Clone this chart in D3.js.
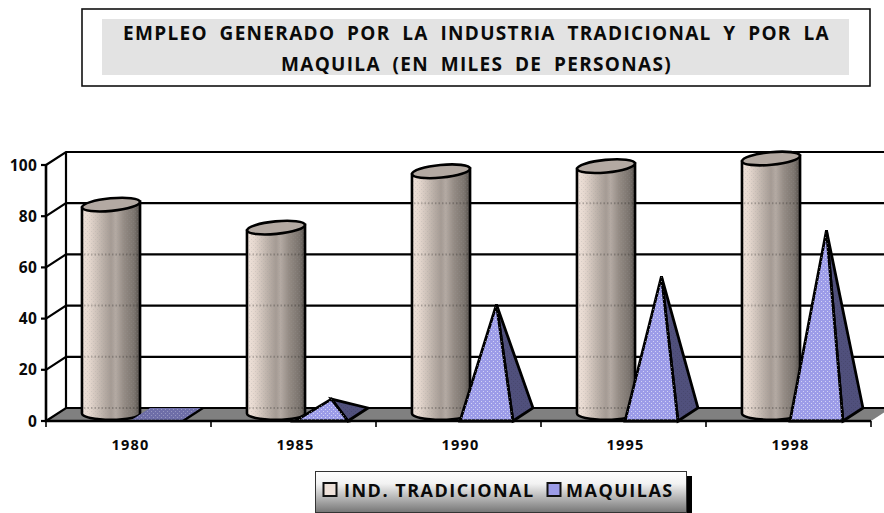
<!DOCTYPE html>
<html><head><meta charset="utf-8">
<script src="https://cdn.jsdelivr.net/npm/d3@7/dist/d3.min.js"></script>
<style>html,body{margin:0;padding:0;background:#fff}svg{display:block}text{font-family:"Open Sans","Noto Sans",sans-serif;font-weight:700;fill:#0a0a0a}</style>
</head><body><svg id="c" width="884" height="513"></svg>
<script>
const titleLines = ["EMPLEO GENERADO POR LA INDUSTRIA TRADICIONAL Y POR LA", "MAQUILA (EN MILES DE PERSONAS)"];
const years = ["1980", "1985", "1990", "1995", "1998"];
const tradicional = [82, 73, 95, 97, 100];
const maquilas = [0, 6, 43, 54, 72];
const yTicks = [0, 20, 40, 60, 80, 100];
const seriesNames = ["IND. TRADICIONAL", "MAQUILAS"];

const svg = d3.select("#c");
const W = 884;
const dx = 20, dy = -13;
const x = d3.scaleBand().domain(years).range([46, 871]);
const y = d3.scaleLinear().domain([0, 100]).range([421, 165]);
const inner = d3.scaleLinear().domain([0, 1]).range([0, x.bandwidth()]);
const defs = svg.append("defs");

function linGrad(id, dir, stops) {
  const g = defs.append("linearGradient").attr("id", id);
  if (dir === "h") g.attr("x1", 0).attr("x2", 1).attr("y1", 0).attr("y2", 0);
  else g.attr("x1", 0).attr("x2", 0).attr("y1", 0).attr("y2", 1);
  stops.forEach(s => g.append("stop").attr("offset", s[0]).attr("stop-color", s[1]));
}
linGrad("cyl", "h", [[0, "#efe2da"], [.12, "#e6d8cf"], [.35, "#bdb2aa"], [.5, "#a59b94"], [.58, "#b4aaa3"], [.72, "#958c85"], [.9, "#7b746e"], [1, "#55504b"]]);
linGrad("legendBg", "v", [[0, "#ffffff"], [.3, "#f2f2f2"], [1, "#757575"]]);
function dots(id, col, op) {
  const p = defs.append("pattern").attr("id", id).attr("width", 4).attr("height", 4).attr("patternUnits", "userSpaceOnUse");
  p.append("rect").attr("x", 1).attr("y", 1).attr("width", 1).attr("height", 1).attr("fill", col).attr("opacity", op);
  p.append("rect").attr("x", 3).attr("y", 3).attr("width", 1).attr("height", 1).attr("fill", col).attr("opacity", op);
}
dots("dotLight", "#ffffff", .55);
dots("dotDark", "#000000", .10);

/* title */
svg.append("rect").attr("x", 82).attr("y", 9).attr("width", 788).attr("height", 77).attr("fill", "#fff").attr("stroke", "#111").attr("stroke-width", 1.6);
svg.append("rect").attr("x", 102).attr("y", 19).attr("width", 747).attr("height", 56).attr("fill", "#e3e3e3");
svg.selectAll("text.title").data(titleLines).join("text").attr("class", "title")
  .attr("x", 476.5).attr("y", (d, i) => 40 + i * 30.5).attr("text-anchor", "middle")
  .attr("font-size", 19).attr("letter-spacing", 1.3).attr("word-spacing", 5.5).text(d => d);

/* floor */
const line = d3.line();
const floorPts = [[x.range()[0], y(0)], [x.range()[0] + dx, y(0) + dy], [x.range()[1] + dx, y(0) + dy], [x.range()[1], y(0)]];
svg.append("path").attr("d", line(floorPts) + "Z").attr("fill", "#808080");

/* gridlines on the walls */
const axisG = svg.append("g").attr("fill", "none").attr("stroke", "#000").attr("stroke-width", 2.2);
yTicks.forEach(t => {
  axisG.append("path").attr("d", line([[x.range()[0], y(t)], [x.range()[0] + dx, y(t) + dy], [W, y(t) + dy]]));
  axisG.append("path").attr("d", line([[x.range()[0] - 5, y(t)], [x.range()[0], y(t)]]));
});
axisG.append("path").attr("d", line([[x.range()[0] + dx, y(100) + dy], [x.range()[0] + dx, y(0) + dy]]));

/* tradicional cylinders */
const cw = inner(.352), cx0 = inner(.218);
const ry = 6.3, tilt = -5.5;
tradicional.forEach((v, i) => {
  const l = x(years[i]) + cx0, r = l + cw, cx = (l + r) / 2;
  const top = y(v) + dy / 2, base = y(0) + dy / 2;
  const slope = Math.tan(tilt * Math.PI / 180) * cw / 2;
  const g = svg.append("g");
  const body = `M${l},${top - slope}L${l},${base - 1}A${cw / 2},${ry} 0 0 0 ${r},${base - 1}L${r},${top + slope}Z`;
  g.append("path").attr("d", body).attr("fill", "url(#cyl)");
  g.append("path").attr("d", body).attr("fill", "url(#dotDark)");
  g.append("path").attr("d", body).attr("fill", "url(#dotLight)").attr("opacity", .25);
  yTicks.filter(t => t < v).forEach(t => {
    g.append("path").attr("d", line([[l + 2, y(t) + dy], [r - 2, y(t) + dy]])).attr("stroke", "#000").attr("stroke-opacity", .22).attr("stroke-width", 2).attr("stroke-dasharray", "1.5 2");
  });
  g.append("path").attr("d", body).attr("fill", "none").attr("stroke", "#000").attr("stroke-width", 2.6);
  g.append("ellipse").attr("cx", cx).attr("cy", top).attr("rx", cw / 2).attr("ry", ry)
    .attr("transform", `rotate(${tilt} ${cx} ${top})`).attr("fill", "#b3a9a2").attr("stroke", "#000").attr("stroke-width", 2.6);
});

/* maquilas pyramids */
const pyr = svg.append("g").selectAll("g").data(years).join("g");
const px0 = inner(.509), pw = inner(.321);
pyr.each(function (yr, i) {
  const g = d3.select(this), v = maquilas[i];
  const l = x(yr) + px0, r = l + pw, by = y(0);
  const apex = [l + (pw + dx) / 2, y(v) + dy / 2 ];
  const fr = [r, by], fl = [l, by], br = [r + dx, by + dy], bl = [l + dx, by + dy];
  if (v === 0) {
    const d = line([fl, fr, br, bl]) + "Z";
    g.append("path").attr("d", d).attr("fill", "#6e6ea8");
    g.append("path").attr("d", d).attr("fill", "url(#dotLight)").attr("opacity", .5);
    g.append("path").attr("d", line([fr, br])).attr("stroke", "#000").attr("stroke-width", 2.4);
    return;
  }
  g.append("path").attr("d", line([fr, br, apex]) + "Z").attr("fill", "#50507c").attr("stroke", "#000").attr("stroke-width", 2.8);
  g.append("path").attr("d", line([fr, br, apex]) + "Z").attr("fill", "url(#dotDark)");
  g.append("path").attr("d", line([fl, fr, apex]) + "Z").attr("fill", "#9c9ce8").attr("stroke", "#000").attr("stroke-width", 2.8);
  g.append("path").attr("d", line([fl, fr, apex]) + "Z").attr("fill", "url(#dotLight)");
});

/* front axes */
const front = svg.append("g").attr("fill", "none").attr("stroke", "#000").attr("stroke-width", 2.6);
front.append("path").attr("d", line([[x.range()[0], y(100)], [x.range()[0], y(0)], [x.range()[1], y(0)]]));
x.domain().concat("end").forEach((yr, i) => {
  const px = x.range()[0] + i * x.bandwidth();
  front.append("path").attr("d", line([[px, y(0)], [px, y(0) + 6]])).attr("stroke-width", 1.6);
});
svg.selectAll("text.yt").data(yTicks).join("text").attr("class", "yt")
  .attr("x", 37).attr("y", d => y(d) + 5.5).attr("text-anchor", "end").attr("font-size", 15.5).attr("letter-spacing", .2).text(d => d);
svg.selectAll("text.xt").data(years).join("text").attr("class", "xt")
  .attr("x", d => x(d) + x.bandwidth() / 2 + 2).attr("y", 450).attr("text-anchor", "middle").attr("font-size", 14.5).attr("letter-spacing", 1.2).text(d => d);

/* legend */
svg.append("rect").attr("x", 320).attr("y", 476).attr("width", 372).attr("height", 41).attr("fill", "#000");
svg.append("rect").attr("x", 315.5).attr("y", 471.5).attr("width", 371).attr("height", 41).attr("fill", "url(#legendBg)").attr("stroke", "#333").attr("stroke-width", 1);
const swatchX = [323.5, 547.5], labelX = [344, 566], swatchFill = ["#efe2da", "#9c9ce8"];
seriesNames.forEach((n, i) => {
  svg.append("rect").attr("x", swatchX[i]).attr("y", 483).attr("width", 13).attr("height", 13).attr("fill", swatchFill[i]).attr("stroke", "#111").attr("stroke-width", 2);
  svg.append("text").attr("x", labelX[i]).attr("y", 496.5).attr("font-size", 18).attr("letter-spacing", 1.5).text(n);
});
</script></body></html>
